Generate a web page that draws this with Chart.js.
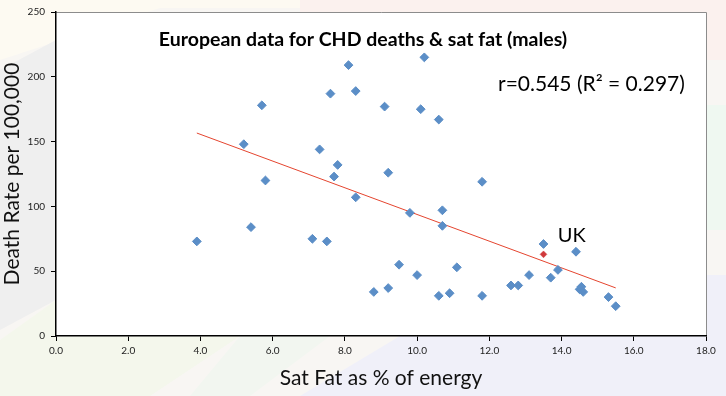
<!DOCTYPE html>
<html>
<head>
<meta charset="utf-8">
<script src="https://cdn.jsdelivr.net/npm/chart.js@4.4.1/dist/chart.umd.min.js"></script>
<style>
  html, body { margin:0; padding:0; }
  body { width:726px; height:396px; position:relative; overflow:hidden; background:#f8f6f3; }
  .bg { position:absolute; left:0; top:0; width:726px; height:396px; }
  #c { position:absolute; left:0; top:0; }
</style>
</head>
<body>
<div class="bg" style="background:#fbf1ee; clip-path:polygon(300px 0,726px 0,726px 60px,706px 60px,706px 20px,300px 20px);"></div>
<div class="bg" style="background:#fdfaf2; clip-path:polygon(0 0,300px 0,300px 8px,160px 8px,0 60px);"></div>
<div class="bg" style="background:#efefef; clip-path:polygon(0 70px,56px 40px,56px 300px,0 330px);"></div>
<div class="bg" style="background:#eff8f1; clip-path:polygon(706px 105px,726px 105px,726px 230px,706px 230px);"></div>
<div class="bg" style="background:#f0f0f9; clip-path:polygon(300px 396px,400px 336px,706px 336px,706px 275px,726px 275px,726px 396px);"></div>
<div class="bg" style="background:#f4f7ec; clip-path:polygon(0 340px,56px 300px,56px 336px,240px 336px,150px 396px,0 396px);"></div>
<div class="bg" style="background:#f2f6f0; clip-path:polygon(240px 336px,330px 336px,250px 396px,190px 396px);"></div>
<canvas id="c" width="726" height="396"></canvas>
<script>
// ---- data ----
const satFat = [3.9,5.2,5.4,5.7,5.8,7.1,7.3,7.5,7.6,7.7,7.8,8.1,8.3,8.3,8.8,9.1,9.2,9.2,9.5,9.8,10.0,10.1,10.2,10.6,10.6,10.7,10.7,10.9,11.1,11.8,11.8,12.6,12.8,13.1,13.5,13.7,13.9,14.4,14.55,14.5,14.6,15.3,15.5];
const deathRate = [73,148,84,178,120,75,144,73,187,123,132,209,189,107,34,177,126,37,55,95,47,175,215,167,31,97,85,33,53,119,31,39,39,47,71,45,51,65,38,36,34,30,23];
const ukSatFat = [13.5];
const ukDeathRate = [63];
const trendX = [3.9, 15.5];
const trendY = [156.6, 37.1];
const xTicks = [0,2,4,6,8,10,12,14,16,18];
const yTicks = [0,50,100,150,200,250];
const chartTitle = 'European data for CHD deaths & sat fat (males)';
const corrText = 'r=0.545 (R\u00B2 = 0.297)';
const ukLabel = 'UK';
const ukLabelPos = [14.28, 77.5];

const toPts = (xs, ys) => xs.map((x, i) => ({x, y: ys[i]}));
const FONT = 'Lato, "Open Sans", sans-serif';

const decor = {
  id: 'decor',
  beforeDraw(chart) {
    const {ctx, chartArea: a} = chart;
    ctx.save();
    ctx.fillStyle = '#ffffff';
    ctx.fillRect(a.left, a.top, a.right - a.left, a.bottom - a.top);
    ctx.strokeStyle = '#8c8c8c';
    ctx.lineWidth = 1;
    ctx.beginPath();
    ctx.moveTo(a.left, Math.round(a.top) + 0.5);
    ctx.lineTo(Math.round(a.right) + 0.5, Math.round(a.top) + 0.5);
    ctx.lineTo(Math.round(a.right) + 0.5, a.bottom);
    ctx.stroke();
    ctx.restore();
  },
  afterDatasetsDraw(chart) {
    const {ctx, chartArea: a, scales} = chart;
    ctx.save();
    ctx.fillStyle = '#000';
    ctx.textBaseline = 'middle';
    ctx.textAlign = 'center';
    ctx.font = 'bold 19.5px ' + FONT;
    ctx.fillText(chartTitle, (a.left + a.right) / 2 - 18, a.top + 28);
    ctx.textAlign = 'left';
    ctx.font = '21px ' + FONT;
    ctx.fillText(corrText, a.left + 442, a.top + 72);
    ctx.textAlign = 'center';
    ctx.font = '20px ' + FONT;
    ctx.fillText(ukLabel, scales.x.getPixelForValue(ukLabelPos[0]), scales.y.getPixelForValue(ukLabelPos[1]));
    ctx.restore();
  }
};

new Chart(document.getElementById('c'), {
  type: 'scatter',
  data: {
    datasets: [
      {
        label: 'Trend',
        data: toPts(trendX, trendY),
        showLine: true,
        borderColor: '#e5452f',
        borderWidth: 1,
        pointRadius: 0,
        fill: false,
        order: 3
      },
      {
        label: 'Countries',
        data: toPts(satFat, deathRate),
        pointStyle: 'rectRot',
        pointRadius: 4.4,
        pointBorderWidth: 1,
        backgroundColor: '#5b8ec7',
        borderColor: '#5b8ec7',
        order: 2
      },
      {
        label: 'UK',
        data: toPts(ukSatFat, ukDeathRate),
        pointStyle: 'rectRot',
        pointRadius: 3.4,
        pointBorderWidth: 0.5,
        backgroundColor: '#d0393b',
        borderColor: '#d0393b',
        order: 1
      }
    ]
  },
  options: {
    responsive: false,
    animation: false,
    devicePixelRatio: 1,
    layout: { padding: { left: 0, right: 20, top: 7, bottom: 0 } },
    plugins: { legend: { display: false }, tooltip: { enabled: false }, title: { display: false } },
    scales: {
      x: {
        type: 'linear',
        min: 0, max: 18,
        afterBuildTicks: s => { s.ticks = xTicks.map(v => ({value: v})); },
        afterFit: s => { s.height = 60; },
        ticks: {
          color: '#222',
          font: { family: FONT, size: 10 },
          padding: 4,
          maxRotation: 0,
          callback: v => Number(v).toFixed(1)
        },
        grid: { drawOnChartArea: false, drawTicks: true, tickLength: 5, tickColor: '#000', tickWidth: 1 },
        border: { display: true, color: '#000', width: 1.5 },
        title: {
          display: true,
          text: 'Sat Fat as % of energy',
          color: '#111',
          font: { family: FONT, size: 21 },
          padding: { top: 0, bottom: 5 }
        }
      },
      y: {
        type: 'linear',
        min: 0, max: 250,
        afterBuildTicks: s => { s.ticks = yTicks.map(v => ({value: v})); },
        afterFit: s => { s.width = 56; },
        ticks: {
          color: '#222',
          font: { family: FONT, size: 10 },
          padding: 6
        },
        grid: { drawOnChartArea: false, drawTicks: true, tickLength: 5, tickColor: '#000', tickWidth: 1 },
        border: { display: true, color: '#000', width: 1.5 },
        title: {
          display: true,
          text: 'Death Rate per 100,000',
          color: '#111',
          font: { family: FONT, size: 21 },
          padding: { top: 0, bottom: 0 }
        }
      }
    }
  },
  plugins: [decor]
});
</script>
</body>
</html>
